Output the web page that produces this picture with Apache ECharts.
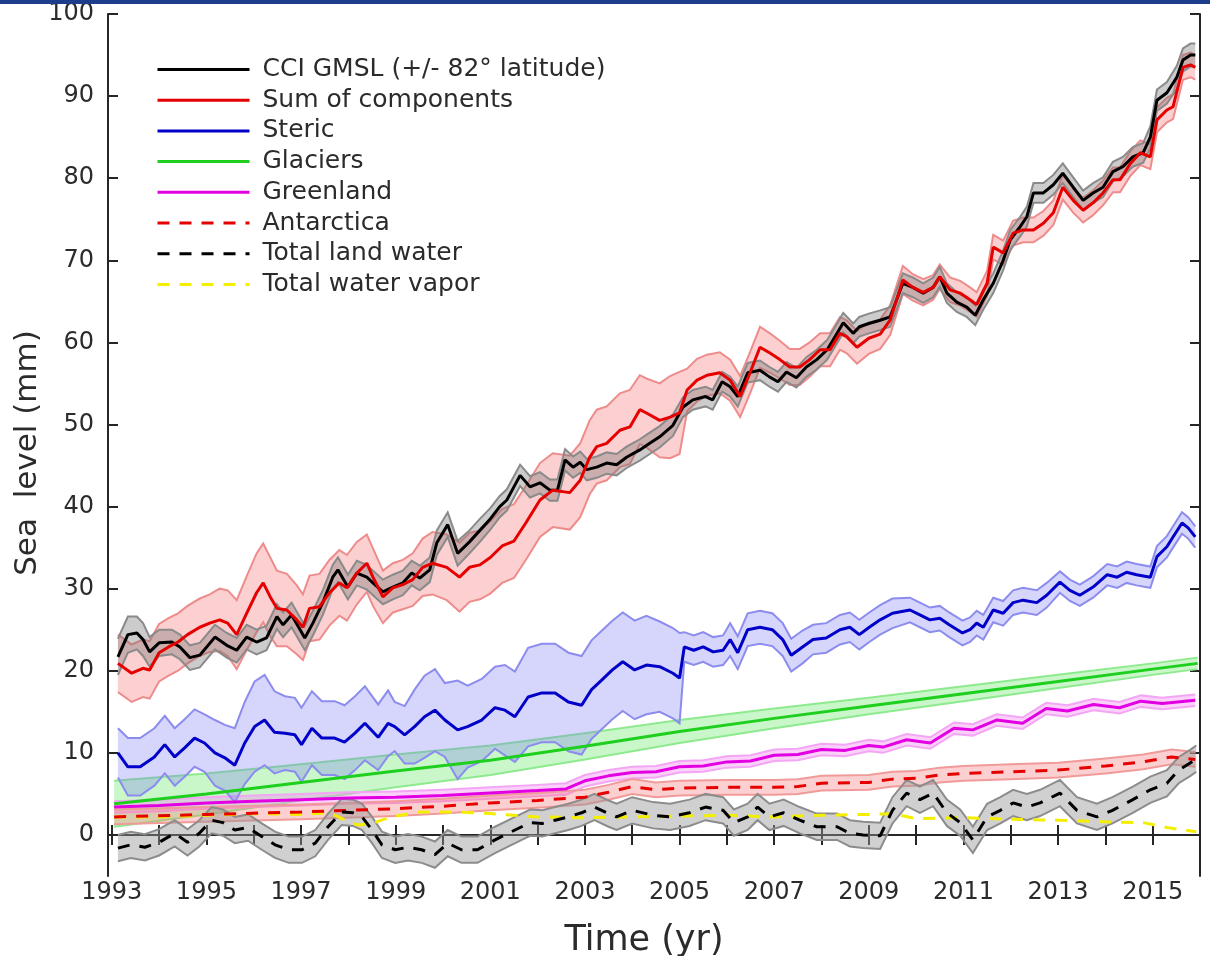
<!DOCTYPE html>
<html>
<head>
<meta charset="utf-8">
<script src="https://cdn.jsdelivr.net/npm/echarts@6/dist/echarts.min.js"></script>
<style>html,body{margin:0;padding:0;background:#fff}#c{width:1210px;height:956px}</style>
</head>
<body>
<div id="c"></div>
<script>
// ---------------- DATA ----------------
const xTickYears = [1993,1994,1995,1996,1997,1998,1999,2000,2001,2002,2003,2004,2005,2006,2007,2008,2009,2010,2011,2012,2013,2014,2015];
const xLabelYears = [1993,1995,1997,1999,2001,2003,2005,2007,2009,2011,2013,2015];
const yTickValues = [0,10,20,30,40,50,60,70,80,90,100];

const legendNames = ["CCI GMSL (+/- 82° latitude)","Sum of components","Steric","Glaciers","Greenland","Antarctica","Total land water","Total water vapor"];

// [year, value, half-width of uncertainty band]
const gmsl = [
[1993.13,21.7,2.2],[1993.34,24.4,2.2],[1993.53,24.6,2.0],[1993.66,23.8,2.0],[1993.80,22.3,1.8],[1994.00,23.4,1.6],
[1994.27,23.5,1.5],[1994.44,22.9,1.5],[1994.65,21.6,1.5],[1994.86,21.9,1.5],[1995.18,24.1,1.5],[1995.43,23.1,1.5],
[1995.64,22.5,1.5],[1995.85,24.1,1.5],[1996.06,23.5,1.5],[1996.27,24.0,1.5],[1996.49,26.6,1.5],[1996.62,25.6,1.5],
[1996.80,26.8,1.5],[1996.98,25.0,1.5],[1997.08,24.0,1.5],[1997.25,25.8,1.5],[1997.46,28.3,1.5],[1997.67,31.4,1.5],
[1997.78,32.3,1.5],[1997.99,30.2,1.5],[1998.18,31.9,1.5],[1998.39,31.4,1.5],[1998.52,30.7,1.5],[1998.73,29.6,1.5],
[1998.94,30.2,1.5],[1999.15,30.7,1.5],[1999.34,31.9,1.5],[1999.51,31.3,1.5],[1999.72,32.3,1.5],[1999.87,35.6,1.5],
[2000.10,37.8,1.5],[2000.31,34.3,1.5],[2000.56,35.7,1.4],[2000.78,37.1,1.4],[2001.00,38.5,1.3],[2001.20,40.0,1.3],
[2001.35,40.8,1.3],[2001.63,43.8,1.3],[2001.84,42.4,1.3],[2002.05,42.9,1.3],[2002.26,42.0,1.3],[2002.42,42.0,1.3],
[2002.58,45.7,1.3],[2002.75,44.8,1.3],[2002.90,45.4,1.3],[2003.04,44.5,1.3],[2003.25,44.8,1.3],[2003.46,45.3,1.3],
[2003.67,45.1,1.3],[2003.88,46.0,1.3],[2004.16,46.9,1.3],[2004.37,47.7,1.3],[2004.58,48.5,1.3],[2004.86,49.9,1.3],
[2005.07,52.1,1.2],[2005.28,53.0,1.2],[2005.55,53.4,1.2],[2005.70,53.0,1.2],[2005.90,55.2,1.2],[2006.07,54.6,1.2],
[2006.23,53.4,1.2],[2006.44,56.3,1.2],[2006.70,56.6,1.2],[2006.90,55.8,1.2],[2007.08,55.2,1.2],[2007.26,56.4,1.2],
[2007.47,55.7,1.2],[2007.68,57.0,1.2],[2007.90,57.9,1.2],[2008.12,59.1,1.2],[2008.33,61.1,1.2],[2008.46,62.4,1.2],
[2008.67,61.1,1.2],[2008.80,61.9,1.2],[2009.00,62.3,1.2],[2009.24,62.7,1.2],[2009.45,63.1,1.2],[2009.72,67.2,1.2],
[2009.93,66.7,1.2],[2010.15,66.0,1.2],[2010.36,66.7,1.2],[2010.50,68.0,1.2],[2010.65,66.0,1.2],[2010.86,64.9,1.2],
[2011.07,64.3,1.2],[2011.25,63.3,1.2],[2011.42,65.2,1.2],[2011.63,67.2,1.2],[2011.84,70.0,1.2],[2011.99,72.5,1.2],
[2012.20,74.1,1.2],[2012.34,75.3,1.2],[2012.48,78.2,1.2],[2012.69,78.2,1.2],[2012.90,79.2,1.2],[2013.10,80.6,1.2],
[2013.32,78.9,1.2],[2013.53,77.3,1.2],[2013.74,78.2,1.2],[2013.95,78.9,1.2],[2014.16,80.8,1.2],[2014.37,81.4,1.2],
[2014.58,82.6,1.2],[2014.80,83.1,1.2],[2014.95,85.0,1.3],[2015.09,89.5,1.3],[2015.30,90.4,1.3],[2015.51,92.3,1.4],
[2015.64,94.4,1.4],[2015.80,95.0,1.4],[2015.90,95.0,1.4]
];

const sumComp = [
[1993.13,20.9,3.5],[1993.42,19.7,3.5],[1993.66,20.3,3.5],[1993.80,20.1,3.5],[1994.00,22.2,3.5],[1994.20,22.9,3.5],
[1994.40,23.5,3.5],[1994.60,24.4,3.5],[1994.86,25.3,3.5],[1995.07,25.8,3.5],[1995.28,26.2,3.8],[1995.45,25.8,4.0],
[1995.64,24.4,4.2],[1995.85,27.0,4.5],[1996.06,29.5,4.8],[1996.20,30.7,4.8],[1996.35,29.0,4.8],[1996.49,27.6,4.6],
[1996.70,27.4,4.4],[1996.91,26.2,4.2],[1997.04,25.3,4.0],[1997.18,27.6,4.0],[1997.39,27.8,4.0],[1997.60,29.5,4.0],
[1997.81,30.7,4.0],[1997.97,30.1,4.0],[1998.18,31.9,3.8],[1998.39,33.1,3.5],[1998.52,31.4,3.5],[1998.73,29.0,3.2],
[1998.94,30.1,3.0],[1999.15,30.5,3.0],[1999.36,31.1,3.2],[1999.57,32.6,3.5],[1999.78,33.1,3.8],[2000.08,32.6,4.0],
[2000.35,31.4,4.2],[2000.56,32.6,4.2],[2000.78,32.9,4.2],[2001.00,33.8,4.4],[2001.25,35.2,4.5],[2001.50,35.8,4.5],
[2001.75,38.0,4.5],[2002.05,40.8,4.5],[2002.32,42.0,4.5],[2002.68,41.7,4.5],[2002.90,43.2,4.5],[2003.10,46.0,4.5],
[2003.25,47.3,4.5],[2003.46,47.7,4.5],[2003.74,49.3,4.5],[2003.95,49.7,4.5],[2004.16,51.8,4.2],[2004.30,51.4,4.2],
[2004.58,50.5,4.5],[2004.80,50.9,5.0],[2005.00,51.4,5.0],[2005.16,54.2,2.6],[2005.37,55.4,2.6],[2005.58,56.0,2.5],
[2005.85,56.3,2.5],[2006.07,55.4,2.5],[2006.28,53.4,2.5],[2006.49,56.3,2.5],[2006.70,59.4,2.5],[2006.91,58.7,2.4],
[2007.12,57.9,2.3],[2007.33,57.0,2.2],[2007.54,57.0,2.2],[2007.75,57.9,2.1],[2007.97,59.1,2.0],[2008.18,59.1,2.0],
[2008.39,61.1,2.0],[2008.53,60.7,2.0],[2008.75,59.4,2.0],[2009.00,60.5,1.9],[2009.24,61.0,1.8],[2009.45,62.7,1.8],
[2009.72,67.6,1.7],[2009.93,66.7,1.6],[2010.15,66.1,1.6],[2010.36,66.7,1.5],[2010.50,68.0,1.5],[2010.72,66.4,1.5],
[2010.93,66.0,1.5],[2011.14,65.2,1.5],[2011.28,64.6,1.5],[2011.50,67.2,1.5],[2011.63,71.6,1.5],[2011.84,70.9,1.5],
[2012.05,73.3,1.5],[2012.26,73.7,1.5],[2012.48,73.7,1.5],[2012.69,74.5,1.5],[2012.90,75.8,1.5],[2013.10,78.9,1.5],
[2013.32,77.3,1.5],[2013.53,76.1,1.5],[2013.74,77.0,1.5],[2013.95,78.2,1.5],[2014.16,79.8,1.5],[2014.31,79.8,1.5],
[2014.53,81.8,1.5],[2014.74,83.1,1.5],[2014.95,82.6,1.5],[2015.09,87.1,1.5],[2015.30,88.3,1.5],[2015.43,88.7,1.5],
[2015.64,93.5,1.5],[2015.80,93.8,1.5],[2015.90,93.5,1.5]
];

const steric = [
[1993.13,10.0,3.0],[1993.34,8.3,3.5],[1993.60,8.3,3.5],[1993.90,9.5,3.5],[1994.12,11.0,3.5],[1994.33,9.5,3.5],
[1994.54,10.6,3.5],[1994.75,11.8,3.5],[1994.96,11.2,3.5],[1995.18,10.0,4.0],[1995.39,9.4,4.0],[1995.60,8.5,4.5],
[1995.81,11.2,5.0],[1996.02,13.2,5.5],[1996.23,14.0,5.5],[1996.44,12.5,5.0],[1996.66,12.4,4.5],[1996.87,12.2,4.5],
[1997.01,11.0,4.5],[1997.23,13.0,4.5],[1997.44,11.8,4.5],[1997.71,11.8,4.5],[1997.92,11.3,4.5],[1998.14,12.4,4.5],
[1998.35,13.6,4.5],[1998.63,11.9,4.0],[1998.84,13.6,4.0],[1998.98,13.2,3.0],[1999.19,12.2,3.5],[1999.40,13.2,4.5],
[1999.61,14.4,5.0],[1999.83,15.2,5.0],[2000.04,14.0,4.5],[2000.31,12.8,6.0],[2000.52,13.2,5.0],[2000.82,14.0,5.0],
[2001.10,15.5,5.0],[2001.31,15.2,5.5],[2001.52,14.4,5.5],[2001.80,16.8,6.0],[2002.09,17.3,6.0],[2002.37,17.3,6.0],
[2002.65,16.2,6.0],[2002.93,15.8,6.0],[2003.14,17.7,6.0],[2003.36,18.9,6.0],[2003.58,20.1,6.0],[2003.80,21.1,6.0],
[2004.05,20.1,6.0],[2004.30,20.7,6.0],[2004.58,20.5,5.5],[2004.86,19.7,5.5],[2005.00,19.1,5.5],[2005.10,22.9,1.8],
[2005.30,22.5,1.8],[2005.50,22.9,1.8],[2005.71,22.3,1.8],[2005.92,22.5,1.8],[2006.07,23.8,2.0],[2006.23,22.2,2.0],
[2006.44,25.0,2.0],[2006.70,25.3,2.0],[2006.96,25.0,2.0],[2007.18,23.8,2.0],[2007.36,21.9,2.0],[2007.60,22.9,2.0],
[2007.82,23.8,1.8],[2008.10,24.0,1.8],[2008.39,25.0,1.8],[2008.60,25.3,1.8],[2008.80,24.4,1.8],[2009.01,25.3,1.8],
[2009.24,26.2,1.8],[2009.50,27.0,1.8],[2009.87,27.4,1.5],[2010.08,26.8,1.5],[2010.29,26.2,1.5],[2010.50,26.4,1.5],
[2010.70,25.6,1.5],[2010.98,24.6,1.5],[2011.14,25.0,1.5],[2011.28,25.8,1.5],[2011.42,25.3,1.5],[2011.63,27.4,1.5],
[2011.84,27.0,1.5],[2012.05,28.3,1.5],[2012.26,28.6,1.5],[2012.55,28.3,1.5],[2012.76,29.2,1.5],[2013.04,30.8,1.3],
[2013.25,29.8,1.3],[2013.46,29.2,1.3],[2013.74,30.2,1.3],[2014.04,31.7,1.3],[2014.25,31.4,1.3],[2014.45,32.0,1.3],
[2014.66,31.7,1.3],[2014.95,31.4,1.3],[2015.09,33.9,1.3],[2015.30,35.1,1.3],[2015.43,36.3,1.3],[2015.62,38.0,1.3],
[2015.75,37.4,1.3],[2015.90,36.3,1.3]
];

const glaciers = [
[1993.05,3.8,2.8],[1995.0,5.0,2.5],[1997.0,6.4,2.2],[1999.0,7.8,2.0],[2001.0,9.1,1.8],[2003.0,10.8,1.6],
[2005.0,12.6,1.4],[2007.0,14.2,1.2],[2009.0,15.7,1.0],[2011.0,17.2,0.9],[2013.0,18.7,0.8],[2015.0,20.2,0.7],
[2015.95,20.9,0.7]
];

const greenland = [
[1993.05,3.4,0.7],[1994.0,3.6,0.7],[1995.0,3.9,0.7],[1996.0,4.1,0.7],[1997.0,4.3,0.7],[1998.0,4.5,0.7],
[1999.0,4.6,0.7],[2000.0,4.8,0.7],[2001.0,5.1,0.7],[2002.0,5.4,0.7],[2002.6,5.6,0.7],[2003.0,6.6,0.7],
[2003.5,7.2,0.7],[2004.0,7.6,0.7],[2004.5,7.7,0.7],[2005.0,8.3,0.7],[2005.5,8.4,0.7],[2006.0,8.9,0.7],
[2006.5,9.0,0.7],[2007.0,9.7,0.7],[2007.5,9.8,0.7],[2008.0,10.4,0.7],[2008.5,10.3,0.7],[2009.0,10.9,0.7],
[2009.3,10.7,0.7],[2009.8,11.6,0.7],[2010.3,11.2,0.7],[2010.8,13.0,0.7],[2011.2,12.8,0.7],[2011.7,14.0,0.7],
[2012.25,13.6,0.7],[2012.75,15.4,0.7],[2013.2,15.1,0.7],[2013.75,15.9,0.7],[2014.3,15.5,0.7],[2014.75,16.3,0.7],
[2015.2,16.0,0.7],[2015.9,16.4,0.7]
];

const antarctica = [
[1993.05,2.2,0.9],[1995.0,2.5,0.9],[1997.0,2.8,0.9],[1999.0,3.2,0.9],[2000.0,3.5,0.9],[2001.0,3.9,0.9],
[2002.0,4.2,0.9],[2003.0,4.6,0.9],[2003.5,5.2,0.9],[2004.0,5.9,0.9],[2004.5,5.5,0.9],[2005.0,5.7,0.9],
[2006.0,5.8,0.9],[2007.0,5.8,0.9],[2007.5,5.9,0.9],[2008.0,6.3,0.9],[2009.0,6.4,0.9],[2009.5,6.8,0.9],
[2010.0,6.9,0.9],[2010.5,7.3,0.9],[2011.0,7.5,0.9],[2012.0,7.7,0.9],[2013.0,7.9,0.9],[2014.0,8.4,0.9],
[2014.8,8.9,0.9],[2015.4,9.5,0.9],[2015.9,9.2,0.9]
];

const landWater = [
[1993.13,-1.6,1.6],[1993.40,-1.2,1.6],[1993.70,-1.5,1.6],[1994.00,-0.9,1.6],[1994.33,0.2,1.6],[1994.60,-0.9,1.6],
[1994.85,0.2,1.6],[1995.11,1.8,1.6],[1995.35,1.5,1.6],[1995.60,0.6,1.6],[1995.88,0.9,1.6],[1996.17,-0.2,1.6],
[1996.45,-1.2,1.6],[1996.74,-1.8,1.6],[1997.02,-1.8,1.6],[1997.30,-1.0,1.6],[1997.57,1.0,1.6],[1997.86,2.8,1.6],
[1998.10,2.7,1.6],[1998.29,2.2,1.6],[1998.50,0.6,1.6],[1998.71,-1.2,1.6],[1998.99,-1.8,1.6],[1999.26,-1.5,1.6],
[1999.55,-1.8,1.6],[1999.83,-2.4,1.6],[2000.10,-1.0,1.6],[2000.39,-1.8,1.6],[2000.73,-1.8,1.6],[2001.10,-0.6,1.6],
[2001.45,0.4,1.6],[2001.84,1.5,1.6],[2002.10,1.4,1.6],[2002.37,1.8,1.6],[2002.65,2.2,1.6],[2002.93,2.7,1.6],
[2003.20,3.4,1.6],[2003.50,2.6,1.6],[2003.67,2.2,1.6],[2004.00,3.0,1.6],[2004.44,2.4,1.6],[2004.80,2.2,1.6],
[2005.21,2.7,1.6],[2005.55,3.4,1.6],[2005.92,3.0,1.6],[2006.15,1.5,1.6],[2006.44,2.2,1.6],[2006.65,3.4,1.6],
[2006.90,2.2,1.6],[2007.20,2.7,1.6],[2007.54,1.8,1.6],[2007.90,1.0,1.6],[2008.33,1.0,1.6],[2008.60,0.2,1.6],
[2008.88,0.0,1.6],[2009.24,-0.1,1.6],[2009.50,3.0,1.6],[2009.80,5.1,1.6],[2010.08,4.3,1.6],[2010.36,5.1,1.6],
[2010.65,2.7,1.6],[2010.93,1.5,1.6],[2011.20,-0.6,1.6],[2011.50,2.2,1.6],[2011.78,3.0,1.6],[2012.05,3.9,1.6],
[2012.34,3.4,1.6],[2012.62,3.9,1.6],[2013.04,5.1,1.6],[2013.40,3.0,1.6],[2013.82,2.2,1.6],[2014.15,3.0,1.6],
[2014.58,4.3,1.6],[2014.95,5.5,1.6],[2015.30,6.3,1.6],[2015.55,7.9,1.6],[2015.80,8.8,1.6],[2015.92,9.3,1.6]
];

const waterVapor = [
[1993.05,2.2],[1994.0,2.2],[1995.0,2.4],[1996.0,2.6],[1997.0,2.5],[1997.6,2.7],[1997.9,1.9],[1998.2,1.2],
[1998.5,1.4],[1998.9,2.2],[1999.5,2.8],[2000.3,2.8],[2001.0,2.6],[2002.0,2.2],[2003.0,2.1],[2004.0,2.2],
[2005.0,2.3],[2006.0,2.4],[2007.0,2.2],[2008.0,2.4],[2009.0,2.5],[2009.5,2.6],[2010.0,2.0],[2011.0,2.1],
[2012.0,1.9],[2013.0,1.8],[2014.0,1.6],[2014.8,1.5],[2015.3,0.9],[2015.92,0.4]
];

// ---------------- CHART ----------------
const FONT = 'DejaVu Sans';
const TXT = '#2b2b2b';

// uncertainty band: polygon between value-err and value+err, placed via the axes' scales
function band(key, pts, fill, edge, z) {
  return {
    name: key + '_band', type: 'custom', z: z, silent: true, clip: true,
    encode: { x: 0, y: [1, 2] },
    data: pts.map(p => [p[0], p[1] - p[2], p[1] + p[2]]),
    renderItem: function (params, api) {
      if (params.dataIndex !== 0) return null;
      const up = pts.map(p => api.coord([p[0], p[1] + p[2]]));
      const dn = pts.map(p => api.coord([p[0], p[1] - p[2]]));
      const poly = up.concat(dn.slice().reverse());
      return { type: 'group', children: [
        { type: 'polygon', shape: { points: poly }, style: { fill: fill, stroke: null } },
        { type: 'polyline', shape: { points: up }, style: { stroke: edge, lineWidth: 2, fill: null } },
        { type: 'polyline', shape: { points: dn }, style: { stroke: edge, lineWidth: 2, fill: null } }
      ]};
    }
  };
}
function mainLine(name, pts, color, width, dashed, z) {
  return { name: name, type: 'line', symbol: 'none', z: z, silent: true,
    data: pts.map(p => [p[0], p[1]]),
    itemStyle: { color: color, opacity: 0 },
    lineStyle: { color: color, width: width, type: dashed ? [12, 10] : 'solid' } };
}

const series = [
  band('gl', glaciers, 'rgba(120,235,120,0.40)', '#8eea8e', 2),
  band('gr', greenland, 'rgba(245,140,245,0.40)', '#f3a6f3', 2),
  band('an', antarctica, 'rgba(245,120,120,0.35)', '#f09a9a', 2),
  band('lw', landWater, 'rgba(150,150,150,0.45)', '#8c8c8c', 3),
  band('st', steric, 'rgba(120,120,245,0.30)', '#8c8cee', 3),
  band('sc', sumComp, 'rgba(245,120,120,0.35)', '#ee8c8c', 4),
  band('gm', gmsl, 'rgba(110,110,110,0.35)', '#8a8a8a', 4),
  mainLine(legendNames[7], waterVapor, '#f4ee00', 3, true, 6),
  mainLine(legendNames[3], glaciers, '#1ecf1e', 3, false, 6),
  mainLine(legendNames[4], greenland, '#e200e2', 3, false, 6),
  mainLine(legendNames[5], antarctica, '#e60000', 3, true, 6),
  mainLine(legendNames[6], landWater, '#000000', 3, true, 6),
  mainLine(legendNames[2], steric, '#0000c8', 3, false, 6),
  mainLine(legendNames[0], gmsl, '#000000', 3, false, 7),
  mainLine(legendNames[1], sumComp, '#e60000', 3, false, 8)
];

const axisLineStyle = { color: '#262626', width: 2 };
const chart = echarts.init(document.getElementById('c'), null, { renderer: 'canvas' });
chart.setOption({
  backgroundColor: '#ffffff',
  animation: false,
  textStyle: { fontFamily: FONT },
  graphic: [{ type: 'rect', left: 0, top: 0, z: 100, shape: { width: 1210, height: 4 }, style: { fill: '#1b3d8c' } }],
  grid: { left: 108, top: 14, right: 10, bottom: 80, containLabel: false, outerBoundsMode: 'none' },
  legend: {
    data: legendNames, orient: 'vertical', left: 151, top: 52,
    itemWidth: 92, itemHeight: 20, itemGap: 5.7,
    selectedMode: false,
    itemStyle: { opacity: 0 },
    lineStyle: { width: 3 },
    textStyle: { fontFamily: FONT, fontSize: 25, color: TXT, lineHeight: 24, padding: [0, 0, 0, 8] }
  },
  xAxis: [
    { type: 'value', min: 1992.92, max: 2016, position: 'bottom',
      name: 'Time (yr)', nameLocation: 'middle', nameGap: 47, nameMoveOverlap: false,
      nameTextStyle: { fontFamily: FONT, fontSize: 35, color: TXT, padding: [0, 20, 0, 0] },
      axisLine: { show: true, lineStyle: axisLineStyle },
      axisTick: { show: true, inside: true, length: 10, lineStyle: axisLineStyle, customValues: xTickYears },
      axisLabel: { show: true, margin: 5, fontFamily: FONT, fontSize: 24, color: TXT, customValues: xLabelYears, formatter: v => String(v) },
      splitLine: { show: false } },
    { type: 'value', min: 1992.92, max: 2016, position: 'top',
      axisLine: { show: true, lineStyle: axisLineStyle },
      axisTick: { show: true, inside: true, length: 10, lineStyle: axisLineStyle, customValues: xTickYears },
      axisLabel: { show: false }, splitLine: { show: false } }
  ],
  yAxis: [
    { type: 'value', min: -5, max: 100, position: 'left',
      name: 'Sea  level (mm)', nameLocation: 'middle', nameGap: 65, nameMoveOverlap: false,
      nameTextStyle: { fontFamily: FONT, fontSize: 31, color: TXT, padding: [0, 16, 0, 0] },
      axisLine: { show: true, lineStyle: axisLineStyle },
      axisTick: { show: true, inside: true, length: 10, lineStyle: axisLineStyle, customValues: yTickValues },
      axisLabel: { show: true, margin: 14, fontFamily: FONT, fontSize: 24, color: TXT, customValues: yTickValues },
      splitLine: { show: false } },
    { type: 'value', min: -5, max: 100, position: 'right',
      axisLine: { show: true, lineStyle: axisLineStyle },
      axisTick: { show: true, inside: true, length: 10, lineStyle: axisLineStyle, customValues: yTickValues },
      axisLabel: { show: false }, splitLine: { show: false } }
  ],
  series: series
});
</script>
</body>
</html>
